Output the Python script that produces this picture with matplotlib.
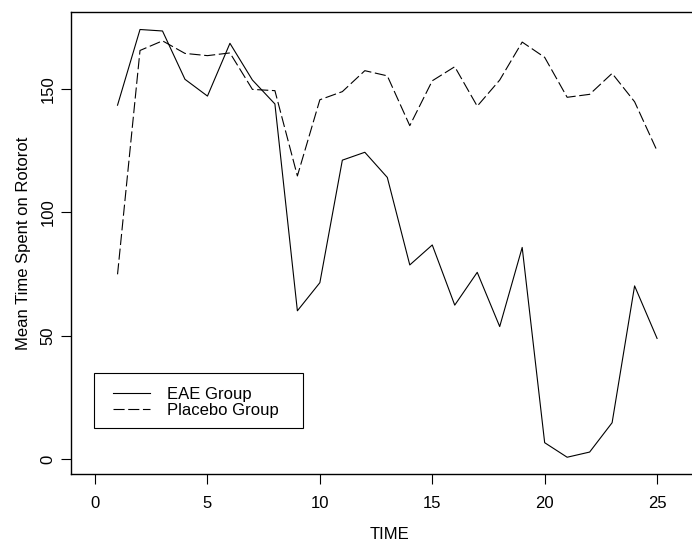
import numpy as np
import matplotlib
matplotlib.use("Agg")
import matplotlib.pyplot as plt
from matplotlib.patches import Rectangle

plt.rcParams['font.family'] = ['Liberation Sans', 'DejaVu Sans']
plt.rcParams['lines.scale_dashes'] = False

time_pts = list(range(1, 26))
eae_group = [143.5, 174.2, 173.6, 154.0, 147.2, 168.6, 153.7, 144.0, 60.1, 71.5,
             121.2, 124.4, 114.2, 78.7, 86.8, 62.4, 75.7, 53.7, 85.8, 6.6,
             0.7, 2.8, 14.7, 70.2, 48.9]
placebo_group = [74.9, 165.7, 169.6, 164.5, 163.6, 164.7, 149.9, 149.4, 114.8, 145.7,
                 149.0, 157.5, 155.4, 135.2, 153.4, 159.1, 143.1, 153.7, 169.1, 162.9,
                 146.7, 147.9, 156.4, 144.9, 125.0]
xticks = [0, 5, 10, 15, 20, 25]
yticks = [0, 50, 100, 150]

W, H = 692, 542
fs = 12
fig = plt.figure(figsize=(W / 100, H / 100), dpi=100)
# axes frame runs past the right edge, as in the cropped original
ax = fig.add_axes([71 / W, (H - 474) / H, (709 - 71) / W, (474 - 12) / H])

ax.plot(time_pts, eae_group, color='black', lw=0.8, label='EAE Group')
ax.plot(time_pts, placebo_group, color='black', lw=0.8, dashes=(8, 2.6),
        label='Placebo Group')

ax.set_xlim(-1.07, 27.31)
ax.set_ylim(-6.1, 181.3)
ax.set_xticks(xticks)
ax.set_yticks(yticks)
ax.tick_params(axis='both', direction='out', length=7.5, width=0.8,
               labelsize=fs, colors='black')
ax.tick_params(axis='x', pad=8)
ax.tick_params(axis='y', pad=3.5)
for lab in ax.get_yticklabels():
    lab.set_rotation(90)
    lab.set_va('center')
for sp in ax.spines.values():
    sp.set_linewidth(1.0)

ax.set_xlabel('TIME', fontsize=fs)
ax.xaxis.set_label_coords(0.5, -0.115)
ax.xaxis.label.set_va('top')
ax.set_ylabel('Mean Time Spent on Rotorot', fontsize=fs)
ax.yaxis.set_label_coords(-0.062, 0.5)

# legend box drawn separately (R-style uneven padding)
fig.add_artist(Rectangle((94.3 / W, (H - 427.7) / H), 209 / W, 55 / H,
                         transform=fig.transFigure, fill=False,
                         edgecolor='black', lw=0.8))
leg = ax.legend(loc='upper left', bbox_to_anchor=(113 / W, (H - 386.5) / H),
                bbox_transform=fig.transFigure, borderaxespad=0, fontsize=fs,
                frameon=False, borderpad=0, handlelength=2.22,
                handletextpad=1.0, labelspacing=0.08)

fig.savefig('out.png', dpi=100)
